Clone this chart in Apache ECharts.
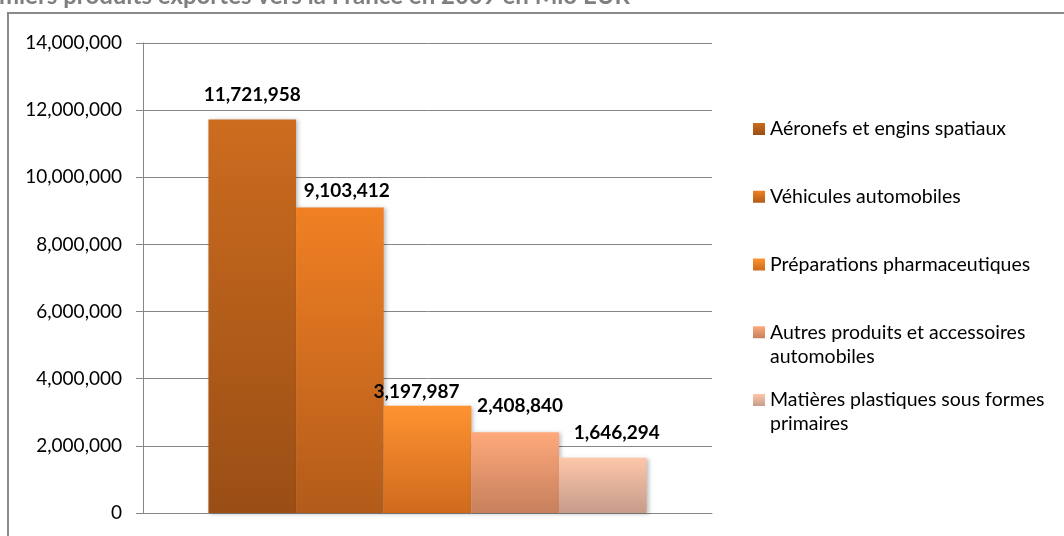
<!DOCTYPE html>
<html>
<head>
<meta charset="utf-8">
<script src="https://cdn.jsdelivr.net/npm/echarts@6/dist/echarts.min.js"></script>
<style>
  html, body { margin: 0; padding: 0; background: #ffffff; }
  #chart { width: 1064px; height: 536px; }
</style>
</head>
<body>
<div id="chart"></div>
<script>
const titleText = 'Premiers produits exportés vers la France en 2009 en Mio EUR';
const categories = ['2009'];
const seriesNames = [
  'Aéronefs et engins spatiaux',
  'Véhicules automobiles',
  'Préparations pharmaceutiques',
  'Autres produits et accessoires automobiles',
  'Matières plastiques sous formes primaires'
];
const legendLines = [
  ['Aéronefs et engins spatiaux'],
  ['Véhicules automobiles'],
  ['Préparations pharmaceutiques'],
  ['Autres produits et accessoires', 'automobiles'],
  ['Matières plastiques sous formes', 'primaires']
];
const values = [11721958, 9103412, 3197987, 2408840, 1646294];
const yMin = 0, yMax = 14000000, yInterval = 2000000;

const topColors = ['#CC6C1F', '#F18023', '#FF9331', '#FFA97B', '#FDC6A9'];
const bottomColors = ['#9A4E15', '#B25B1A', '#CF6A1D', '#C6805D', '#C69C8A'];
const labelOffsets = [[0, -5], [7, 3], [-11, 6], [5, -7], [14, -5]];

const fontFamily = 'Lato, "Noto Sans", sans-serif';
const fmt = v => Number(v).toLocaleString('en-US');

const series = seriesNames.map((name, i) => ({
  name: name,
  type: 'bar',
  data: [values[i]],
  barGap: '0%',
  barCategoryGap: '23%',
  itemStyle: {
    color: new echarts.graphic.LinearGradient(0, 0, 0, 1, [
      { offset: 0, color: topColors[i] },
      { offset: 1, color: bottomColors[i] }
    ]),
    shadowColor: 'rgba(0,0,0,0.25)',
    shadowBlur: 4,
    shadowOffsetX: 2,
    shadowOffsetY: 1
  },
  label: {
    show: true,
    position: 'top',
    distance: 10,
    offset: labelOffsets[i],
    formatter: p => fmt(p.value),
    color: '#000000',
    fontWeight: 'bold',
    fontSize: 19,
    fontFamily: fontFamily
  }
}));

const chart = echarts.init(document.getElementById('chart'), null, { renderer: 'canvas' });
chart.setOption({
  animation: false,
  backgroundColor: '#ffffff',
  graphic: [
    {
      type: 'rect',
      shape: { x: 8, y: 13, width: 1070, height: 560 },
      style: { fill: 'none', stroke: '#8a8a8a', lineWidth: 2 },
      silent: true,
      z: -1
    },
    {
      type: 'text',
      style: {
        text: titleText,
        x: 630,
        y: 8,
        align: 'right',
        verticalAlign: 'bottom',
        fill: '#7f7f7f',
        font: 'bold 24px ' + fontFamily
      },
      silent: true
    }
  ],
  grid: { left: 143, right: 352, top: 43, bottom: 23, containLabel: false },
  legend: {
    orient: 'vertical',
    left: 753,
    top: 93,
    padding: 0,
    itemWidth: 12,
    itemHeight: 12,
    itemGap: -4.25,
    icon: 'rect',
    selectedMode: false,
    data: seriesNames,
    formatter: name => {
      const lines = legendLines[seriesNames.indexOf(name)];
      return '\n' + lines[0] + '\n' + (lines[1] || '');
    },
    textStyle: {
      color: '#000000',
      fontSize: 19.5,
      lineHeight: 24,
      fontFamily: fontFamily
    }
  },
  xAxis: {
    type: 'category',
    data: categories,
    axisLine: { show: true, lineStyle: { color: '#868686', width: 1 } },
    axisTick: { show: false },
    axisLabel: { show: false },
    splitLine: { show: false }
  },
  yAxis: {
    type: 'value',
    min: yMin,
    max: yMax,
    interval: yInterval,
    axisLine: { show: true, lineStyle: { color: '#868686', width: 1 } },
    axisTick: { show: true, inside: false, length: 7, lineStyle: { color: '#868686' } },
    axisLabel: {
      margin: 21,
      color: '#000000',
      fontSize: 19,
      fontFamily: fontFamily,
      formatter: v => fmt(v)
    },
    splitLine: { show: true, lineStyle: { color: '#868686', width: 1 } }
  },
  series: series
});
</script>
</body>
</html>
